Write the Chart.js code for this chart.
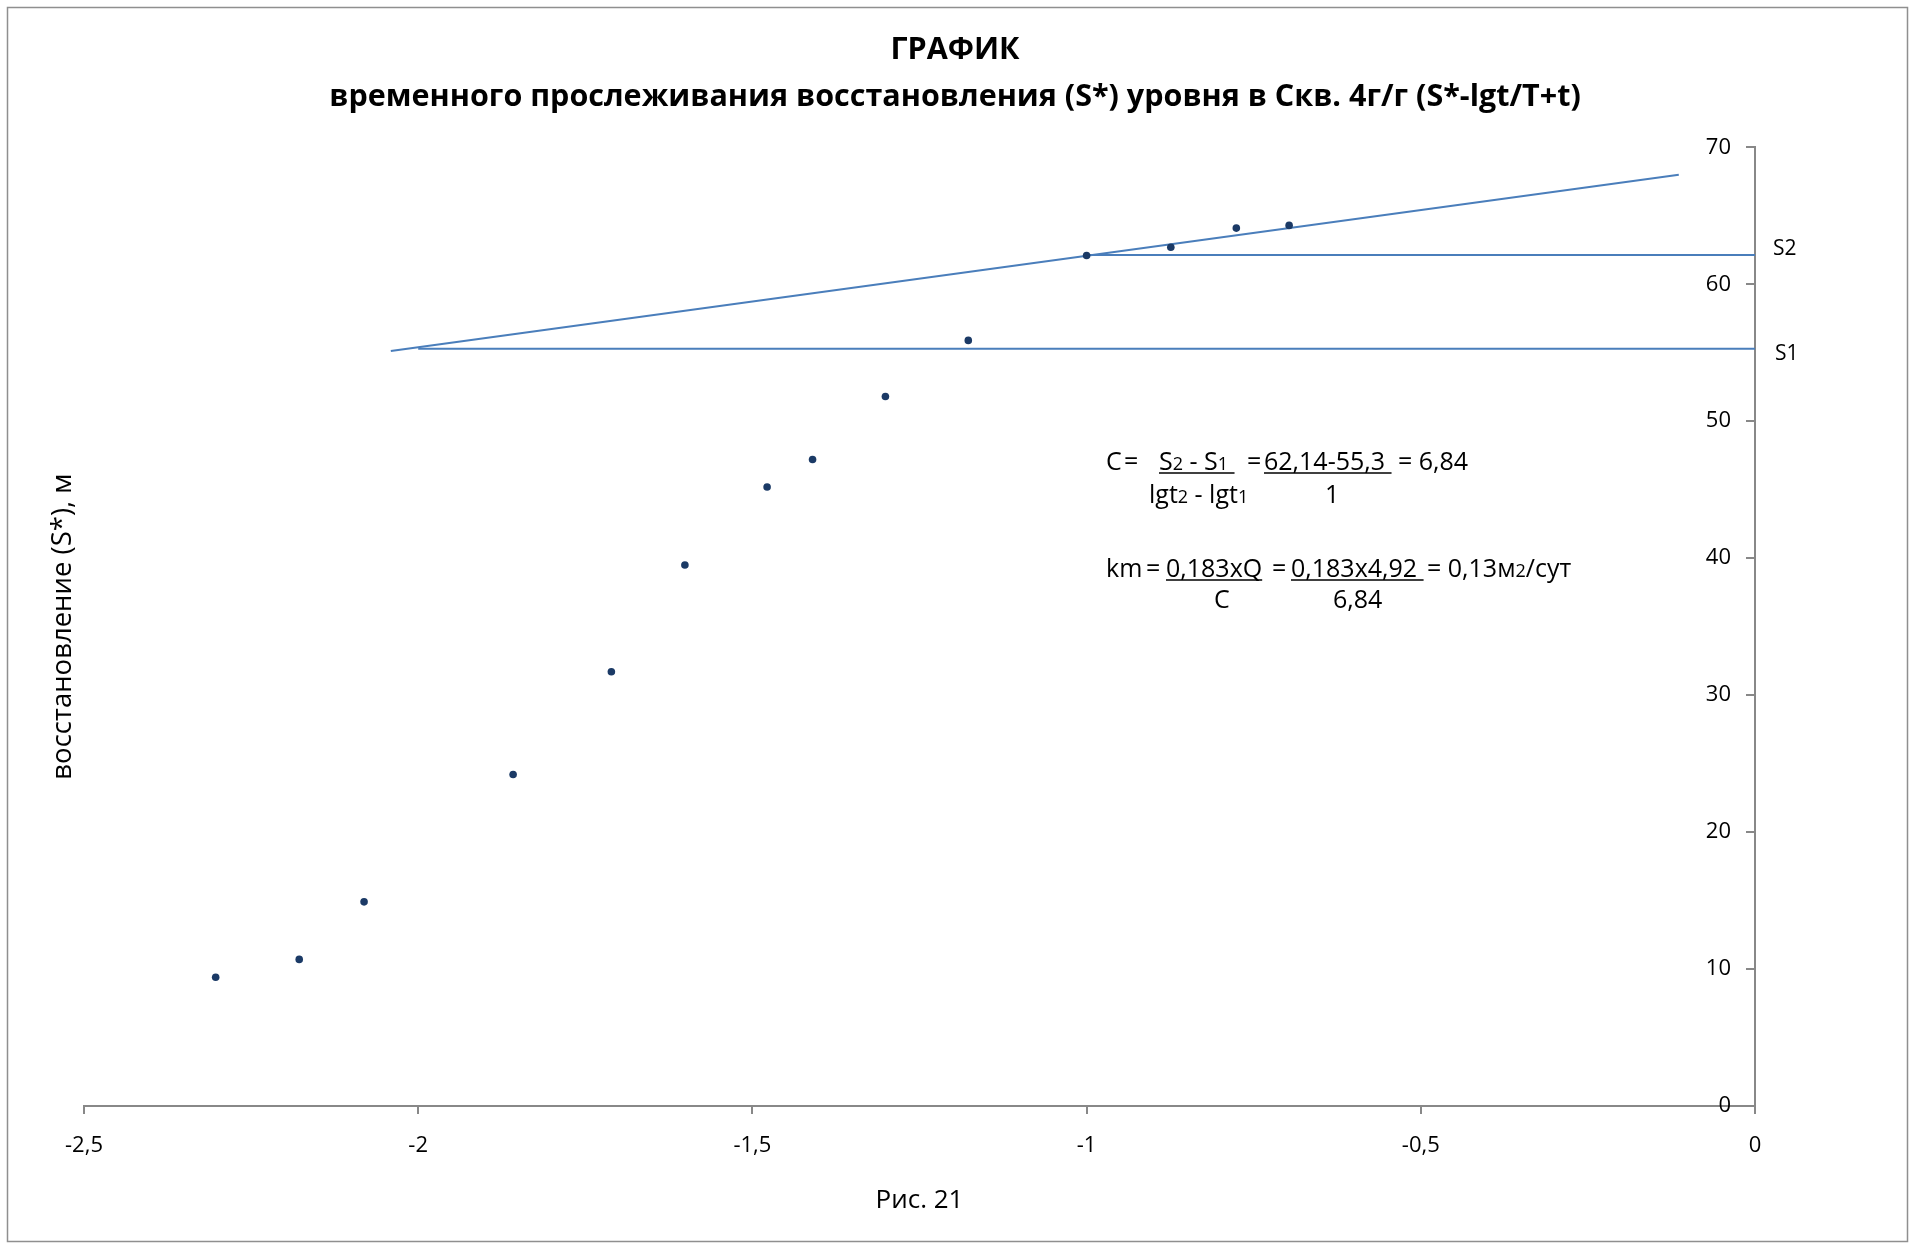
<!DOCTYPE html>
<html>
<head>
<meta charset="utf-8">
<script src="https://cdn.jsdelivr.net/npm/chart.js@4.4.1/dist/chart.umd.min.js"></script>
<style>
  html, body { margin: 0; padding: 0; background: #ffffff; }
  #wrap { width: 1910px; height: 1245px; position: relative; }
</style>
</head>
<body>
<div id="wrap"><canvas id="c" width="1910" height="1245"></canvas></div>
<script>
// ---- data ----
const lgValues = [-2.303, -2.178, -2.081, -1.858, -1.711, -1.601, -1.478, -1.410, -1.301, -1.177, -1.000, -0.874, -0.776, -0.697];
const sValues  = [9.4, 10.7, 14.9, 24.2, 31.7, 39.5, 45.2, 47.2, 51.8, 55.9, 62.1, 62.7, 64.1, 64.3];

const trendX = [-2.041, -0.114];
const trendY = [55.12, 68.0];
const s1X = [-2.0, 0];
const s1Y = [55.3, 55.3];
const s2X = [-1.0, 0];
const s2Y = [62.14, 62.14];

const xTickValues = [-2.5, -2, -1.5, -1, -0.5, 0];
const xTickLabels = ['-2,5', '-2', '-1,5', '-1', '-0,5', '0'];
const yTickValues = [0, 10, 20, 30, 40, 50, 60, 70];
const yTickLabels = ['0', '10', '20', '30', '40', '50', '60', '70'];

const titleLines = ['ГРАФИК', 'временного прослеживания восстановления (S*) уровня в Скв. 4г/г (S*-lgt/T+t)'];
const xTitle = 'Рис. 21';
const yTitle = 'восстановление (S*), м';
const levelLabels = ['S2', 'S1'];

const FONT = "'Open Sans', 'Noto Sans', sans-serif";
const AXIS = '#888888';
const LINE = '#4A7EBB';
const DOT = '#1B3A66';

function pts(xs, ys) { return xs.map((x, i) => ({x: x, y: ys[i]})); }

const annotations = {
  id: 'annotations',
  afterDraw(chart) {
    const ctx = chart.ctx;
    const ys = chart.scales.y;
    ctx.save();
    // outer frame
    ctx.strokeStyle = '#8f8f8f';
    ctx.lineWidth = 1.5;
    ctx.strokeRect(7.5, 7.5, 1900, 1234);

    // level labels S2 / S1 next to the lines
    ctx.fillStyle = '#000';
    ctx.font = '21px ' + FONT;
    ctx.textBaseline = 'middle';
    ctx.textAlign = 'left';
    ctx.fillText(levelLabels[0], 1773, ys.getPixelForValue(s2Y[0]) - 6);
    ctx.fillText(levelLabels[1], 1775, ys.getPixelForValue(s1Y[0]) + 5);

    // formula text box
    const size = 25;
    const pieces = [
      {x: 1106, y: 470, t: 'C'},
      {x: 1124, y: 470, t: '='},
      {x: 1159, y: 470, t: 'S_2 - S_1 ', u: true},
      {x: 1247, y: 470, t: '='},
      {x: 1264, y: 470, t: '62,14-55,3 ', u: true},
      {x: 1398, y: 470, t: '= 6,84'},
      {x: 1149, y: 503, t: 'lgt_2 - lgt_1'},
      {x: 1325, y: 503, t: '1'},
      {x: 1106, y: 577, t: 'km'},
      {x: 1146, y: 577, t: '='},
      {x: 1166, y: 577, t: '0,183xQ', u: true},
      {x: 1272, y: 577, t: '='},
      {x: 1291, y: 577, t: '0,183x4,92 ', u: true},
      {x: 1427, y: 577, t: '= 0,13м_2/сут'},
      {x: 1214, y: 608, t: 'C'},
      {x: 1333, y: 608, t: '6,84'}
    ];
    ctx.textBaseline = 'alphabetic';
    ctx.textAlign = 'left';
    ctx.fillStyle = '#000';
    for (const p of pieces) {
      let cx = p.x;
      const parts = p.t.split(/(_.)/);
      for (const part of parts) {
        if (!part) continue;
        let txt = part, s = size;
        if (part[0] === '_') { txt = part.slice(1); s = Math.round(size * 0.72); }
        ctx.font = s + 'px ' + FONT;
        ctx.fillText(txt, cx, p.y);
        cx += ctx.measureText(txt).width;
      }
      if (p.u) {
        ctx.strokeStyle = '#000';
        ctx.lineWidth = 1.5;
        ctx.beginPath();
        ctx.moveTo(p.x, p.y + 3);
        ctx.lineTo(cx, p.y + 3);
        ctx.stroke();
      }
    }
    ctx.restore();
  }
};

new Chart(document.getElementById('c'), {
  type: 'scatter',
  data: {
    datasets: [
      {label: 'trend', type: 'line', data: pts(trendX, trendY), borderColor: LINE, borderWidth: 2, pointRadius: 0, fill: false, order: 2},
      {label: 'S1', type: 'line', data: pts(s1X, s1Y), borderColor: LINE, borderWidth: 2, pointRadius: 0, fill: false, order: 2},
      {label: 'S2', type: 'line', data: pts(s2X, s2Y), borderColor: LINE, borderWidth: 2, pointRadius: 0, fill: false, order: 2},
      {label: 'S*', data: pts(lgValues, sValues), backgroundColor: DOT, borderColor: DOT, borderWidth: 0, pointRadius: 3.8, order: 1}
    ]
  },
  options: {
    responsive: false,
    animation: false,
    layout: {padding: {top: 10, left: 0, right: 0, bottom: 25}},
    plugins: {
      legend: {display: false},
      tooltip: {enabled: false},
      title: {
        display: true,
        text: titleLines,
        color: '#000',
        font: {family: FONT, size: 30.5, weight: 'bold', lineHeight: 1.53},
        padding: {top: 17, bottom: 27}
      }
    },
    scales: {
      x: {
        type: 'linear',
        position: 'bottom',
        min: -2.5, max: 0,
        afterBuildTicks: s => { s.ticks = xTickValues.map(v => ({value: v})); },
        ticks: {
          callback: (v, i) => xTickLabels[i],
          font: {family: FONT, size: 22},
          color: '#000',
          padding: 19,
          maxRotation: 0,
          autoSkip: false
        },
        grid: {drawOnChartArea: false, drawTicks: true, tickLength: 8, color: AXIS, lineWidth: 2},
        border: {display: true, color: AXIS, width: 2},
        title: {display: true, text: xTitle, color: '#000', font: {family: FONT, size: 26}, padding: {top: 6.5, bottom: 4}}
      },
      y: {
        type: 'linear',
        position: {x: 0},
        min: 0, max: 70,
        afterBuildTicks: s => { s.ticks = yTickValues.map(v => ({value: v})); },
        ticks: {display: false},
        grid: {drawOnChartArea: false, drawTicks: true, tickLength: 8, color: AXIS, lineWidth: 2},
        border: {display: true, color: AXIS, width: 2},
        title: {display: false}
      },
      yr: {
        type: 'linear',
        position: 'right',
        min: 0, max: 70,
        afterBuildTicks: s => { s.ticks = yTickValues.map(v => ({value: v})); },
        afterFit: s => { s.width = 155; },
        ticks: {
          mirror: true,
          callback: (v, i) => yTickLabels[i],
          font: {family: FONT, size: 22},
          color: '#000',
          padding: -24,
          autoSkip: false
        },
        grid: {display: false, drawTicks: false},
        border: {display: false}
      },
      yl: {
        type: 'linear',
        position: 'left',
        min: 0, max: 70,
        afterFit: s => { s.width = 84; },
        ticks: {display: false},
        grid: {display: false, drawTicks: false},
        border: {display: false},
        title: {display: true, text: yTitle, color: '#000', font: {family: FONT, size: 27.5, lineHeight: 1.2}, padding: {top: 47, bottom: 4}}
      }
    }
  },
  plugins: [annotations]
});
</script>
</body>
</html>
